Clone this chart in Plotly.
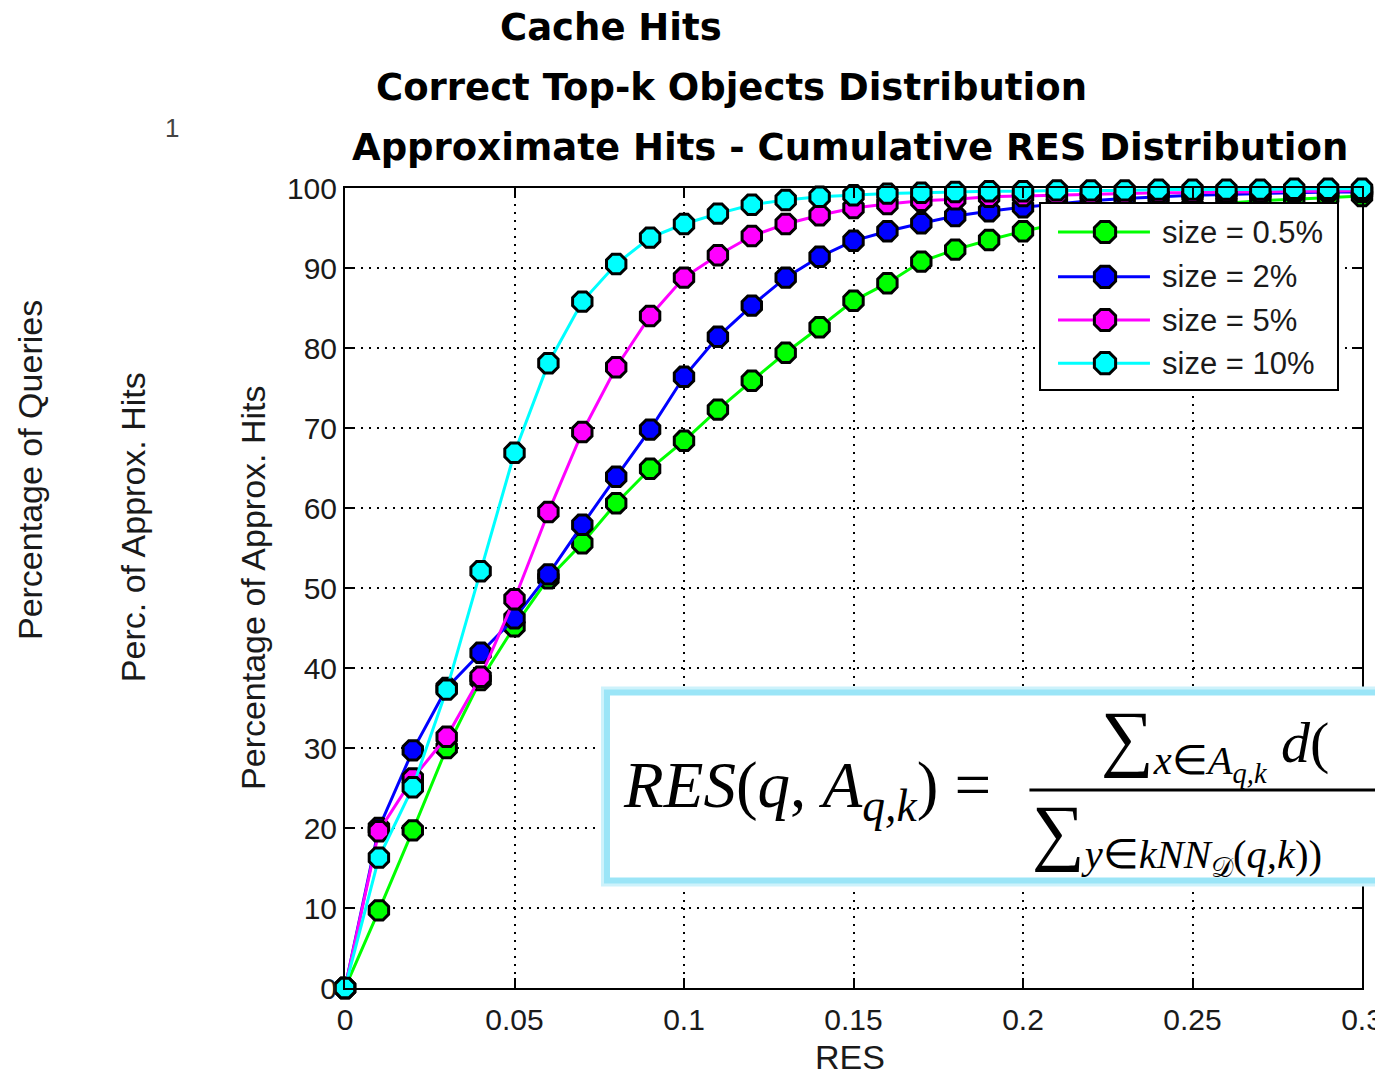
import math
import plotly.graph_objects as go

res = [0.00, 0.01, 0.02, 0.03, 0.04, 0.05, 0.06, 0.07, 0.08, 0.09, 0.10,
       0.11, 0.12, 0.13, 0.14, 0.15, 0.16, 0.17, 0.18, 0.19, 0.20,
       0.21, 0.22, 0.23, 0.24, 0.25, 0.26, 0.27, 0.28, 0.29, 0.30]

size_05 = [0, 9.7, 19.7, 30.0, 38.5, 45.2, 51.2, 55.6, 60.6, 64.9, 68.4,
           72.3, 75.9, 79.4, 82.6, 85.9, 88.1, 90.8, 92.3, 93.5, 94.6,
           95.5, 96.3, 96.9, 97.4, 97.8, 98.1, 98.4, 98.6, 98.8, 99.0]
size_2 = [0, 20.0, 29.7, 37.5, 41.9, 46.2, 51.7, 57.9, 63.9, 69.8, 76.4,
          81.4, 85.3, 88.8, 91.4, 93.4, 94.6, 95.6, 96.5, 97.1, 97.6,
          98.0, 98.4, 98.7, 98.9, 99.1, 99.2, 99.3, 99.4, 99.5, 99.5]
size_5 = [0, 19.6, 26.2, 31.4, 38.9, 48.6, 59.5, 69.5, 77.6, 84.0, 88.8,
          91.6, 94.0, 95.5, 96.6, 97.5, 98.0, 98.4, 98.6, 98.9, 99.0,
          99.1, 99.2, 99.3, 99.4, 99.4, 99.5, 99.5, 99.6, 99.6, 99.7]
size_10 = [0, 16.3, 25.1, 37.3, 52.1, 66.9, 78.1, 85.8, 90.5, 93.8, 95.5,
           96.8, 97.9, 98.5, 98.9, 99.1, 99.3, 99.4, 99.5, 99.6, 99.6,
           99.7, 99.7, 99.7, 99.8, 99.8, 99.8, 99.8, 99.9, 99.9, 99.9]

series_names = ["size = 0.5%", "size = 2%", "size = 5%", "size = 10%"]
series_vals = [size_05, size_2, size_5, size_10]
series_colors = ["#00ff00", "#0000ff", "#ff00ff", "#00ffff"]

x_tick_vals = [0, 0.05, 0.1, 0.15, 0.2, 0.25, 0.3]
x_tick_text = ["0", "0.05", "0.1", "0.15", "0.2", "0.25", "0.3"]
y_tick_vals = [0, 10, 20, 30, 40, 50, 60, 70, 80, 90, 100]
y_tick_text = ["0", "10", "20", "30", "40", "50", "60", "70", "80", "90", "100"]

titles = ["Cache Hits", "Correct Top-k Objects Distribution",
          "Approximate Hits - Cumulative RES Distribution"]
y_labels = ["Percentage of Queries", "Perc. of Approx. Hits", "Percentage of Approx. Hits"]
x_label = "RES"

FONT = "Liberation Sans, Arial, Helvetica, sans-serif"
TFONT = "DejaVu Sans, Verdana, sans-serif"
SERIF = "Liberation Serif, Times New Roman, serif"
TXT = "#1a1a1a"

fig = go.Figure()
for name, vals, col in zip(series_names, series_vals, series_colors):
    fig.add_trace(go.Scatter(
        x=res, y=vals, name=name, mode="lines+markers",
        line=dict(color=col, width=3),
        marker=dict(symbol="octagon", size=21, color=col,
                    line=dict(color="black", width=3)),
        cliponaxis=False, showlegend=False,
    ))

# page body has an 8px margin, so the figure is offset by 8px
fig.update_layout(
    width=1375, height=1065,
    margin=dict(l=337, r=21, t=180, b=85, autoexpand=False),
    paper_bgcolor="white", plot_bgcolor="white",
    font=dict(family=FONT, size=30, color=TXT),
    showlegend=False,
)

axis_common = dict(
    showline=True, linecolor="black", linewidth=2, mirror="ticks",
    ticks="inside", ticklen=10, tickwidth=2, tickcolor="black",
    showgrid=True, gridcolor="black", gridwidth=2, griddash="2px,6px",
    zeroline=False, tickfont=dict(family=FONT, size=30, color=TXT),
    automargin=False,
)
fig.update_xaxes(range=[0, 0.3], tickvals=x_tick_vals, ticktext=x_tick_text,
                 ticklabelstandoff=4, **axis_common)
fig.update_yaxes(range=[0, 100], tickvals=y_tick_vals, ticktext=y_tick_text,
                 **axis_common)

# ---- formula box with cyan glow ----
fig.add_shape(type="rect", xref="paper", yref="paper",
              x0=0.2576, x1=1.3, y0=0.1344, y1=0.3694,
              line=dict(color="#cdf2fb", width=12), fillcolor="white", layer="above")
fig.add_shape(type="rect", xref="paper", yref="paper",
              x0=0.2576, x1=1.3, y0=0.1344, y1=0.3694,
              line=dict(color="#9be5f7", width=6), fillcolor="white", layer="above")
fig.add_shape(type="line", xref="paper", yref="paper",
              x0=0.673, x1=1.3, y0=0.2475, y1=0.2475,
              line=dict(color="black", width=3), layer="above")

# ---- manual legend (MATLAB style, long line samples) ----
lg_x0, lg_x1, lg_y0, lg_y1 = 0.6834, 0.9764, 0.7475, 0.98125
fig.add_shape(type="rect", xref="paper", yref="paper",
              x0=lg_x0, x1=lg_x1, y0=lg_y0, y1=lg_y1,
              line=dict(color="black", width=2), fillcolor="white", layer="above")
entry_y = [0.945, 0.889, 0.835, 0.781]
r = 11.5
oct_pts = [(r * math.cos(math.radians(22.5 + 45 * k)), r * math.sin(math.radians(22.5 + 45 * k)))
           for k in range(8)]
oct_path = "M" + " L".join(f"{px:.2f},{py:.2f}" for px, py in oct_pts) + " Z"
for name, col, ey in zip(series_names, series_colors, entry_y):
    fig.add_shape(type="line", xref="paper", yref="paper",
                  x0=0.7011, x1=0.7915, y0=ey, y1=ey,
                  line=dict(color=col, width=3), layer="above")
    fig.add_shape(type="path", xref="paper", yref="paper",
                  xsizemode="pixel", ysizemode="pixel",
                  xanchor=0.7473, yanchor=ey, path=oct_path,
                  fillcolor=col, line=dict(color="black", width=3), layer="above")
    fig.add_annotation(xref="paper", yref="paper", showarrow=False,
                       text=name, x=0.8014, y=ey, xanchor="left", yanchor="middle",
                       font=dict(family=FONT, size=31, color=TXT))

annos = [
    dict(text="<i>RES</i>(<i>q</i>, <i>A</i><sub><i>q,k</i></sub>) =",
         x=0.2714, y=0.2475, xanchor="left", yanchor="middle",
         font=dict(family=SERIF, size=65, color="black")),
    dict(text="<span style='font-size:74px'>∑</span><sub><i>x</i>∈<i>A</i><sub><i>q,k</i></sub></sub> <i>d</i>(",
         x=0.741, y=0.307, xanchor="left", yanchor="middle",
         font=dict(family=SERIF, size=58, color="black")),
    dict(text="<span style='font-size:74px'>∑</span><sub><i>y</i>∈<i>kNN</i><sub>𝒟</sub>(<i>q,k</i>))</sub>",
         x=0.6735, y=0.19, xanchor="left", yanchor="middle",
         font=dict(family=SERIF, size=58, color="black")),
    dict(text=f"<b>{titles[0]}</b>", x=0.2616, y=1.201, xanchor="center", yanchor="middle",
         font=dict(family=TFONT, size=37, color="black")),
    dict(text=f"<b>{titles[1]}</b>", x=0.3796, y=1.126,
         xanchor="center", yanchor="middle", font=dict(family=TFONT, size=37, color="black")),
    dict(text=f"<b>{titles[2]}</b>", x=0.4966, y=1.051,
         xanchor="center", yanchor="middle", font=dict(family=TFONT, size=37, color="black")),
    dict(text=y_labels[0], x=-0.3097, y=0.6475, textangle=-90,
         xanchor="center", yanchor="middle", font=dict(family=FONT, size=34, color=TXT)),
    dict(text=y_labels[1], x=-0.2085, y=0.576, textangle=-90,
         xanchor="center", yanchor="middle", font=dict(family=FONT, size=34, color=TXT)),
    dict(text=y_labels[2], x=-0.0905, y=0.5, textangle=-90,
         xanchor="center", yanchor="middle", font=dict(family=FONT, size=34, color=TXT)),
    dict(text="1", x=-0.170, y=1.075, xanchor="center", yanchor="middle",
         font=dict(family=FONT, size=26, color="#444444")),
    dict(text=x_label, x=0.497, y=-0.086, xanchor="center", yanchor="middle",
         font=dict(family=FONT, size=34, color=TXT)),
]
for a in annos:
    fig.add_annotation(xref="paper", yref="paper", showarrow=False, **a)

fig.write_html("out.html")
